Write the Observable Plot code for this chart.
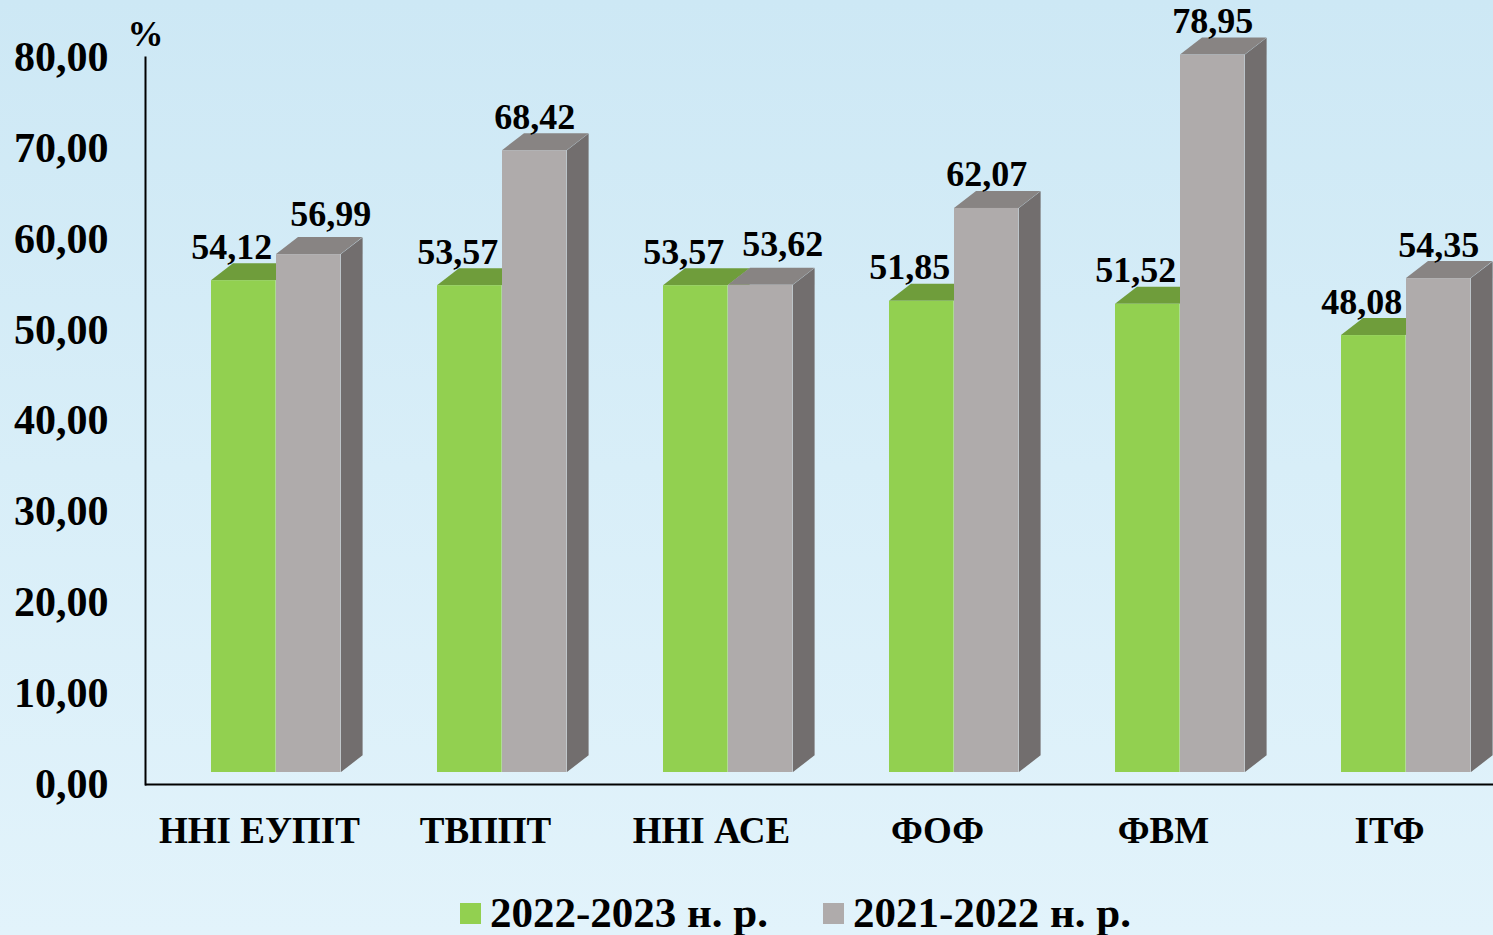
<!DOCTYPE html>
<html>
<head>
<meta charset="utf-8">
<script src="https://cdn.jsdelivr.net/npm/d3@7"></script>
<script src="https://cdn.jsdelivr.net/npm/@observablehq/plot@0.6"></script>
<style>
  html, body { margin: 0; padding: 0; }
  body {
    width: 1493px; height: 935px; overflow: hidden;
    background: linear-gradient(to bottom, #cde8f5 0%, #d8eef8 50%, #e2f3fb 100%);
    font-family: "Liberation Serif", "Times New Roman", serif;
  }
  #chart svg { display: block; background: transparent; }
  #legend {
    display: flex; align-items: center; height: 42px; margin-top: 22px;
    padding-left: 460px; font-size: 43px; font-weight: bold; line-height: 42px; color: #000;
  }
  .sw { width: 21px; height: 21px; display: inline-block; margin-right: 9px; }
  .item { display: flex; align-items: center; margin-right: 55px; }
</style>
</head>
<body>
<div id="chart"></div>
<div id="legend"></div>
<script>
// ---- data ----
const categories = ["ННІ ЕУПІТ", "ТВППТ", "ННІ АСЕ", "ФОФ", "ФВМ", "ІТФ"];
const values2023 = [54.12, 53.57, 53.57, 51.85, 51.52, 48.08];
const values2022 = [56.99, 68.42, 53.62, 62.07, 78.95, 54.35];
const seriesNames = ["2022-2023 н. р.", "2021-2022 н. р."];
const yTicks = [0, 10, 20, 30, 40, 50, 60, 70, 80];

// ---- styling ----
const green = {front: "#92d050", top: "#6f9d3b", side: "#6a9a34"};
const gray = {front: "#afabab", top: "#888483", side: "#726e6e"};
const FONT = "Liberation Serif";
const fmt = v => v.toFixed(2).replace(".", ",");

const rows = categories.map((c, i) => ({cat: c, a: values2023[i], b: values2022[i]}));

const W = 1493, H = 870;
const step = 226.4;
const xRange = [145, 145 + step * categories.length];
const BW = 65;          // front face width (px)
const DX = 22, DY = 17; // depth
const LIFT = -12;       // floor offset

function skew(t) {
  return (index, scales, values, dims, ctx, next) => {
    const g = next(index, scales, values, dims, ctx);
    g.querySelectorAll("rect").forEach(r => {
      r.style.transformBox = "fill-box";
      r.style.transformOrigin = "0 100%";
      r.style.transform = t;
    });
    return g;
  };
}
const skewSide = skew(`skewY(${-Math.atan(DY / DX) * 180 / Math.PI}deg)`);
const skewTop = skew(`skewX(${-Math.atan(DX / DY) * 180 / Math.PI}deg)`);

function faces(key, off, col) {
  const L = off, R = step - off - BW;
  return [
    Plot.barY(rows, {x: "cat", y1: key, y2: key, fill: col.top, insetLeft: L, insetRight: R, insetTop: -DY, dy: LIFT, render: skewTop}),
    Plot.barY(rows, {x: "cat", y: key, fill: col.side, insetLeft: L + BW, insetRight: R - DX, dy: LIFT, render: skewSide}),
    Plot.barY(rows, {x: "cat", y: key, fill: col.front, insetLeft: L, insetRight: R, dy: LIFT})
  ];
}

const textBase = {fontFamily: FONT, fontWeight: "bold", fill: "#000", lineAnchor: "bottom", fontSize: 36};
const near = d => Math.abs(d.b - d.a) < 4;

const chart = Plot.plot({
  width: W, height: H,
  marginLeft: 145, marginRight: 0, marginTop: 57, marginBottom: H - 784,
  style: {fontFamily: FONT, background: "transparent", overflow: "visible"},
  x: {domain: categories, range: xRange, padding: 0},
  y: {domain: [0, 80]},
  marks: [
    ...faces("a", 65, green),
    ...faces("b", 130, gray),
    Plot.ruleY([0], {stroke: "#000", strokeWidth: 2}),
    Plot.frame({anchor: "left", stroke: "#000", strokeWidth: 2}),
    Plot.axisY({ticks: yTicks, tickSize: 0, tickPadding: 37, tickFormat: fmt, fontSize: 42, fontWeight: "bold", fontFamily: FONT, fill: "#000", label: null}),
    Plot.axisX({tickSize: 0, tickPadding: 32, fontSize: 37, fontWeight: "bold", fontFamily: FONT, fill: "#000", label: null}),
    Plot.text(["%"], {frameAnchor: "top-left", text: d => d, dy: -12, textAnchor: "middle", ...textBase}),
    Plot.text(rows, {x: "cat", y: "a", text: d => fmt(d.a), dx: 65 + BW / 2 - step / 2 - 12, dy: LIFT - DY - 5, ...textBase}),
    Plot.text(rows, {x: "cat", y: "b", text: d => fmt(d.b), filter: d => !near(d), dx: 130 + BW / 2 - step / 2, dy: LIFT - DY - 5, ...textBase}),
    Plot.text(rows, {x: "cat", y: "b", text: d => fmt(d.b), filter: near, dx: 130 + BW / 2 - step / 2 + 22, dy: LIFT - DY - 12, ...textBase})
  ]
});
document.getElementById("chart").appendChild(chart);

// legend
const legend = document.getElementById("legend");
[[seriesNames[0], green.front], [seriesNames[1], gray.front]].forEach(([name, col]) => {
  const it = document.createElement("div");
  it.className = "item";
  const sw = document.createElement("span");
  sw.className = "sw"; sw.style.background = col;
  it.appendChild(sw);
  it.appendChild(document.createTextNode(name));
  legend.appendChild(it);
});
</script>
</body>
</html>
